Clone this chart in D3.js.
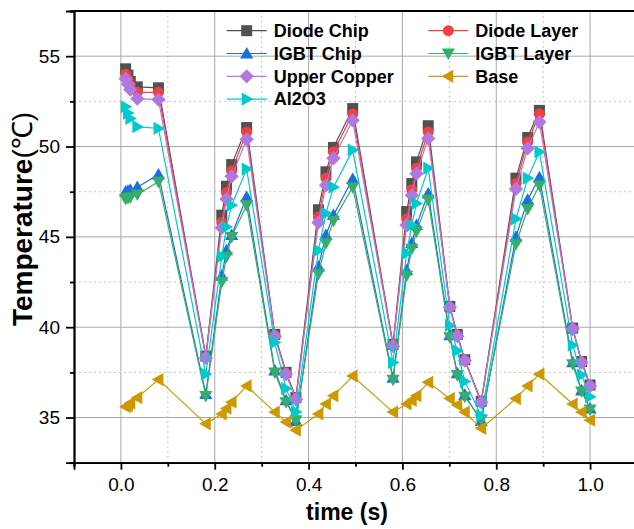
<!DOCTYPE html>
<html>
<head>
<meta charset="utf-8">
<script src="https://cdn.jsdelivr.net/npm/d3@7"></script>
<style>
  body { margin: 0; background: #fff; }
  svg { display: block; }
</style>
</head>
<body>
<svg id="chart" width="634" height="529"></svg>
<script>
// Sample times (s)
const time = [0.010, 0.015, 0.020, 0.035, 0.080, 0.181, 0.215, 0.225, 0.236, 0.268,
              0.328, 0.352, 0.373, 0.421, 0.437, 0.453, 0.494, 0.580, 0.609, 0.620,
              0.630, 0.655, 0.701, 0.717, 0.733, 0.768, 0.842, 0.867, 0.892, 0.963,
              0.982, 1.000];

// Temperatures (°C) for each layer
const diodeChip = [54.3, 53.95, 53.6, 53.3, 53.25, 38.4, 46.2, 47.8, 49.0, 51.05,
                   39.6, 37.5, 36.1, 46.5, 48.6, 49.95, 52.1, 39.05, 46.4, 47.95,
                   49.15, 51.15, 41.15, 39.6, 38.2, 35.9, 48.25, 50.5, 52.0, 39.95,
                   38.1, 36.8];
const diodeLayer = [54.0, 53.7, 53.4, 53.0, 53.0, 38.35, 45.8, 47.45, 48.65, 50.8,
                    39.55, 37.45, 36.05, 46.1, 48.25, 49.7, 51.8, 39.0, 46.0, 47.6,
                    48.8, 50.8, 41.1, 39.55, 38.15, 35.85, 47.95, 50.25, 51.8, 39.9,
                    38.05, 36.75];
const igbtChip = [47.5, 47.55, 47.6, 47.75, 48.45, 36.3, 42.85, 44.25, 45.1, 47.2,
                  37.6, 35.95, 34.8, 43.35, 45.1, 46.2, 48.2, 37.2, 43.15, 44.65,
                  45.65, 47.4, 39.55, 37.45, 36.25, 34.8, 45.0, 47.05, 48.3, 38.05,
                  36.5, 35.5];
const igbtLayer = [47.1, 47.15, 47.2, 47.35, 48.05, 36.2, 42.5, 43.9, 45.0, 46.75,
                   37.5, 35.85, 34.85, 42.95, 44.65, 45.9, 47.75, 37.1, 42.85, 44.35,
                   45.3, 47.05, 39.45, 37.35, 36.15, 34.9, 44.6, 46.55, 47.85, 37.95,
                   36.45, 35.45];
const upperCopper = [53.75, 53.45, 53.15, 52.65, 52.6, 38.3, 45.5, 47.1, 48.35, 50.4,
                     39.5, 37.4, 36.0, 45.8, 47.85, 49.35, 51.45, 38.95, 45.65, 47.3,
                     48.5, 50.45, 41.1, 39.5, 38.15, 35.85, 47.65, 49.9, 51.35, 39.9,
                     38.05, 36.75];
const base = [35.6, 35.65, 35.8, 36.1, 37.1, 34.65, 35.2, 35.5, 35.85, 36.75,
              35.3, 34.75, 34.3, 35.2, 35.75, 36.2, 37.3, 35.3, 35.75, 35.95,
              36.2, 36.95, 36.05, 35.7, 35.3, 34.4, 36.05, 36.75, 37.4, 35.75,
              35.3, 34.85];
const al2o3 = [52.2, 51.85, 51.55, 51.1, 51.0, 37.4, 43.9, 45.55, 46.75, 48.75,
               39.15, 36.6, 35.3, 44.25, 46.3, 47.75, 49.8, 38.05, 44.1, 45.65,
               46.85, 48.8, 40.1, 38.7, 37.0, 35.1, 46.0, 48.25, 49.7, 39.0,
               37.35, 36.15];

const seriesNames = ["Diode Chip", "Diode Layer", "IGBT Chip", "IGBT Layer",
                     "Upper Copper", "Base", "Al2O3"];

const xTicks = [0.0, 0.2, 0.4, 0.6, 0.8, 1.0];
const xMinorTicks = [-0.1, 0.1, 0.3, 0.5, 0.7, 0.9, 1.1];
const yTicks = [35, 40, 45, 50, 55];
const yMinorTicks = [32.5, 37.5, 42.5, 47.5, 52.5, 57.5];

// ---- drawing ----
const svg = d3.select("#chart");
const plotLeft = 74, plotRight = 637, plotTop = 11, plotBottom = 462.7;
const x = d3.scaleLinear().domain([-0.1, 1.1]).range([plotLeft, plotRight]);
const y = d3.scaleLinear().domain([32.5, 57.5]).range([plotBottom, plotTop]);

const font = "'Liberation Sans', Arial, Helvetica, sans-serif";

// grid
const grid = svg.append("g");
grid.selectAll(".vmaj").data(xTicks).join("line")
  .attr("x1", d => x(d)).attr("x2", d => x(d)).attr("y1", plotTop).attr("y2", plotBottom)
  .attr("stroke", "#a8a8a8").attr("stroke-width", 1);
grid.selectAll(".vmin").data(xMinorTicks.filter(d => d > -0.1 && d < 1.1)).join("line")
  .attr("x1", d => x(d)).attr("x2", d => x(d)).attr("y1", plotTop).attr("y2", plotBottom)
  .attr("stroke", "#c4c4c4").attr("stroke-width", 1).attr("stroke-dasharray", "2,3");
grid.selectAll(".hmaj").data(yTicks).join("line")
  .attr("y1", d => y(d)).attr("y2", d => y(d)).attr("x1", plotLeft).attr("x2", plotRight)
  .attr("stroke", "#a8a8a8").attr("stroke-width", 1);
grid.selectAll(".hmin").data(yMinorTicks.filter(d => d > 32.5 && d < 57.5)).join("line")
  .attr("y1", d => y(d)).attr("y2", d => y(d)).attr("x1", plotLeft).attr("x2", plotRight)
  .attr("stroke", "#c4c4c4").attr("stroke-width", 1).attr("stroke-dasharray", "2,3");

// axes
const xAxis = svg.append("g").attr("transform", `translate(0,${plotBottom})`)
  .call(d3.axisBottom(x).tickValues(xTicks).tickFormat(d3.format(".1f")).tickSize(7).tickPadding(8));
const xAxisMinor = svg.append("g").attr("transform", `translate(0,${plotBottom})`)
  .call(d3.axisBottom(x).tickValues(xMinorTicks).tickFormat("").tickSize(4));
const yAxis = svg.append("g").attr("transform", `translate(${plotLeft},0)`)
  .call(d3.axisLeft(y).tickValues(yTicks).tickFormat(d3.format("d")).tickSize(8).tickPadding(6));
const yAxisMinor = svg.append("g").attr("transform", `translate(${plotLeft},0)`)
  .call(d3.axisLeft(y).tickValues(yMinorTicks).tickFormat("").tickSize(4));

[xAxis, xAxisMinor, yAxis, yAxisMinor].forEach(g => {
  g.select(".domain").attr("stroke", "#000").attr("stroke-width", 1.8);
  g.selectAll(".tick line").attr("stroke", "#000").attr("stroke-width", 1.8);
  g.selectAll(".tick text").attr("font-family", font).attr("font-size", 19).attr("fill", "#000");
});

// top frame line
svg.append("line").attr("x1", plotLeft).attr("x2", plotRight).attr("y1", plotTop).attr("y2", plotTop)
  .attr("stroke", "#000").attr("stroke-width", 1.8);

// axis titles
svg.append("text").attr("x", 347).attr("y", 520).attr("text-anchor", "middle")
  .attr("font-family", font).attr("font-weight", "bold").attr("font-size", 23)
  .text("time (s)");

// y title: sized so that it spans from about y=100 to y=338
const yTitle = svg.append("text").attr("transform", "translate(32,219) rotate(-90)")
  .attr("text-anchor", "middle").attr("font-family", font).attr("font-size", 24);
yTitle.append("tspan").attr("font-weight", "bold").text("Temperature");
yTitle.append("tspan").attr("font-weight", "normal").text("(℃)");
const titleLen = yTitle.node().getComputedTextLength();
yTitle.attr("font-size", Math.min(28, 24 * 238 / titleLen));

// marker shapes
function markerPath(kind, s) {
  const h = s / 2;
  switch (kind) {
    case "square": return `M${-h},${-h}H${h}V${h}H${-h}Z`;
    case "circle": return d3.symbol(d3.symbolCircle, Math.PI * h * h)();
    case "diamond": { const r = h * 1.3; return `M0,${-r}L${r},0L0,${r}L${-r},0Z`; }
    case "up": { const r = h * 1.2; return `M0,${-r}L${r},${r * 0.75}L${-r},${r * 0.75}Z`; }
    case "down": { const r = h * 1.2; return `M0,${r}L${r},${-r * 0.75}L${-r},${-r * 0.75}Z`; }
    case "left": { const r = h * 1.2; return `M${-r},0L${r * 0.75},${-r}L${r * 0.75},${r}Z`; }
    case "right": { const r = h * 1.2; return `M${r},0L${-r * 0.75},${-r}L${-r * 0.75},${r}Z`; }
  }
}

const series = [
  { name: seriesNames[0], values: diodeChip,   color: "#515151", marker: "square" },
  { name: seriesNames[1], values: diodeLayer,  color: "#F14040", marker: "circle" },
  { name: seriesNames[2], values: igbtChip,    color: "#1A6FDF", marker: "up" },
  { name: seriesNames[3], values: igbtLayer,   color: "#37AD6B", marker: "down" },
  { name: seriesNames[4], values: upperCopper, color: "#B177DE", marker: "diamond" },
  { name: seriesNames[5], values: base,        color: "#CC9900", marker: "left" },
  { name: seriesNames[6], values: al2o3,       color: "#00CBCC", marker: "right" }
];

const line = d3.line().x(d => x(d[0])).y(d => y(d[1]));
const markerSize = 11;

series.forEach(s => {
  const pts = time.map((t, i) => [t, s.values[i]]);
  const g = svg.append("g");
  g.append("path").attr("d", line(pts)).attr("fill", "none")
    .attr("stroke", s.color).attr("stroke-width", 1.2);
  g.selectAll("path.m").data(pts).join("path").attr("class", "m")
    .attr("transform", d => `translate(${x(d[0])},${y(d[1])})`)
    .attr("d", markerPath(s.marker, markerSize))
    .attr("fill", s.color);
});

// legend (two columns, row-wise order)
const legendCols = [226.7, 428.3];
const legendRows = [30.7, 53.5, 76.3, 99.1];
const legend = svg.append("g");
series.forEach((s, i) => {
  const cx = legendCols[i % 2], cy = legendRows[Math.floor(i / 2)];
  const g = legend.append("g").attr("transform", `translate(${cx},${cy})`);
  g.append("line").attr("x1", 0).attr("x2", 40).attr("y1", 0).attr("y2", 0)
    .attr("stroke", s.color).attr("stroke-width", 1.2);
  g.append("path").attr("transform", "translate(20,0)")
    .attr("d", markerPath(s.marker, markerSize)).attr("fill", s.color);
  g.append("text").attr("x", 47).attr("y", 0).attr("dy", "0.35em")
    .attr("font-family", font).attr("font-weight", "bold").attr("font-size", 18)
    .text(s.name);
});
</script>
</body>
</html>
